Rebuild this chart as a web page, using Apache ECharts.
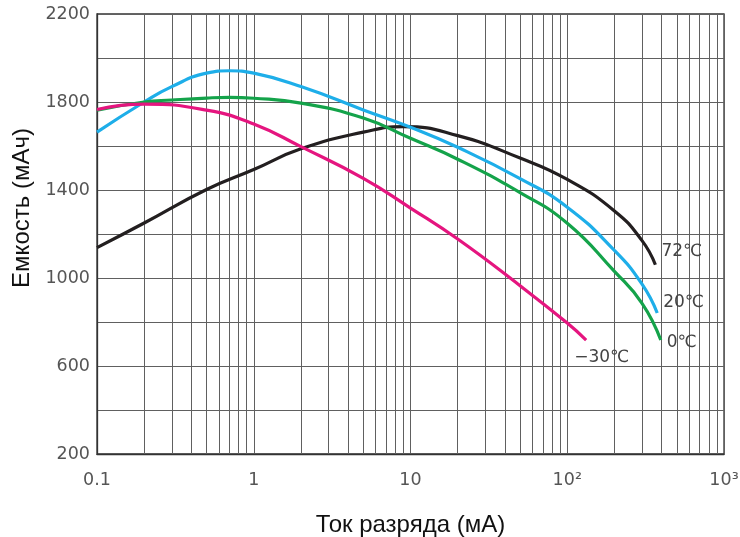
<!DOCTYPE html>
<html>
<head>
<meta charset="utf-8">
<script src="https://cdn.jsdelivr.net/npm/echarts@6/dist/echarts.min.js"></script>
<style>
html,body{margin:0;padding:0;background:#fff;}
#chart{width:740px;height:537px;}
</style>
</head>
<body>
<div id="chart"></div>
<script>
// ---- data ----
var seriesNames = ['72℃', '20℃', '0℃', '−30℃'];
var seriesColors = ['#231f20', '#1eaee9', '#14a34a', '#e5157f'];

var current72 = [0.1, 0.2, 0.5, 1, 2, 5, 9, 20, 50, 100, 200, 300, 365];
var capacity72 = [1138, 1250, 1402, 1493, 1587, 1663, 1688, 1647, 1545, 1448, 1305, 1170, 1060];

var current20 = [0.1, 0.2, 0.3, 0.5, 0.7, 1, 2, 5, 10, 20, 50, 100, 200, 300, 375];
var capacity20 = [1663, 1800, 1870, 1931, 1942, 1931, 1870, 1764, 1685, 1594, 1452, 1322, 1125, 972, 841];

var current0 = [0.1, 0.2, 0.3, 0.5, 0.7, 1, 2, 5, 10, 20, 50, 100, 200, 300, 395];
var capacity0 = [1763, 1800, 1809, 1818, 1821, 1817, 1795, 1727, 1635, 1540, 1388, 1249, 1030, 885, 718];

var currentM30 = [0.1, 0.2, 0.5, 1, 2, 5, 10, 20, 50, 100, 132];
var capacityM30 = [1766, 1790, 1763, 1700, 1597, 1453, 1318, 1177, 965, 795, 718];

var xTickLabels = ['0.1', '1', '10', '10²', '10³'];
var yTickLabels = [200, 600, 1000, 1400, 1800, 2200];

// minor log grid values (2..9 within each decade)
var minorGrid = [];
[0.1, 1, 10, 100].forEach(function (d) {
  for (var k = 2; k <= 9; k++) minorGrid.push(+(k * d).toPrecision(3));
});

function zip(xs, ys) { return xs.map(function (x, i) { return [x, ys[i]]; }); }

var currents = [current72, current20, current0, currentM30];
var capacities = [capacity72, capacity20, capacity0, capacityM30];
var labelOffsets = [[0, -13], [0, -10], [0, 3], [-18, 18]];

var chart = echarts.init(document.getElementById('chart'));
var gridColor = '#606060';

var series = currents.map(function (xs, i) {
  return {
    name: seriesNames[i],
    type: 'line',
    data: zip(xs, capacities[i]),
    smooth: 0.5,
    showSymbol: false,
    symbol: 'none',
    lineStyle: { color: seriesColors[i], width: 3.2 },
    itemStyle: { color: seriesColors[i] },
    z: 5,
    animation: false,
    endLabel: {
      show: true,
      formatter: seriesNames[i],
      color: '#444',
      fontSize: 17,
      fontFamily: 'DejaVu Sans',
      distance: 6,
      offset: labelOffsets[i]
    }
  };
});

series.push({
  type: 'line',
  data: [],
  silent: true,
  animation: false,
  markLine: {
    silent: true,
    symbol: 'none',
    animation: false,
    label: { show: false },
    lineStyle: { color: gridColor, width: 1, type: 'solid' },
    data: minorGrid.map(function (v) { return { xAxis: v }; })
  }
});

chart.setOption({
  animation: false,
  grid: {
    left: 97, right: 16, top: 14, bottom: 83,
    outerBoundsMode: 'none',
    containLabel: false,
    show: true, borderColor: '#333', borderWidth: 1.3
  },
  xAxis: {
    type: 'log',
    logBase: 10,
    min: 0.1,
    max: 1000,
    name: 'Ток разряда (мА)',
    nameLocation: 'middle',
    nameGap: 59,
    nameTextStyle: { fontSize: 24, color: '#111', fontFamily: 'Liberation Sans' },
    axisLine: { show: true, lineStyle: { color: '#333', width: 1.3 } },
    axisTick: { show: false },
    axisLabel: {
      margin: 17,
      fontSize: 17.5,
      color: '#555',
      fontFamily: 'DejaVu Sans',
      formatter: function (v) {
        var idx = Math.round(Math.log10(v)) + 1;
        return xTickLabels[idx] !== undefined ? xTickLabels[idx] : '';
      }
    },
    splitLine: { show: true, lineStyle: { color: gridColor, width: 1 } }
  },
  yAxis: {
    type: 'value',
    min: 200,
    max: 2200,
    interval: 200,
    name: 'Емкость (мАч)',
    nameLocation: 'middle',
    nameGap: 62,
    nameRotate: 90,
    nameTextStyle: { fontSize: 24, color: '#111', fontFamily: 'Liberation Sans', padding: [0, 0, 0, 52] },
    axisLine: { show: true, lineStyle: { color: '#333', width: 1.3 } },
    axisTick: { show: false },
    axisLabel: {
      margin: 7,
      fontSize: 17.5,
      color: '#555',
      fontFamily: 'DejaVu Sans',
      formatter: function (v) {
        return yTickLabels.indexOf(v) >= 0 ? String(v) : '';
      }
    },
    splitLine: { show: true, lineStyle: { color: gridColor, width: 1 } }
  },
  series: series
});
</script>
</body>
</html>
